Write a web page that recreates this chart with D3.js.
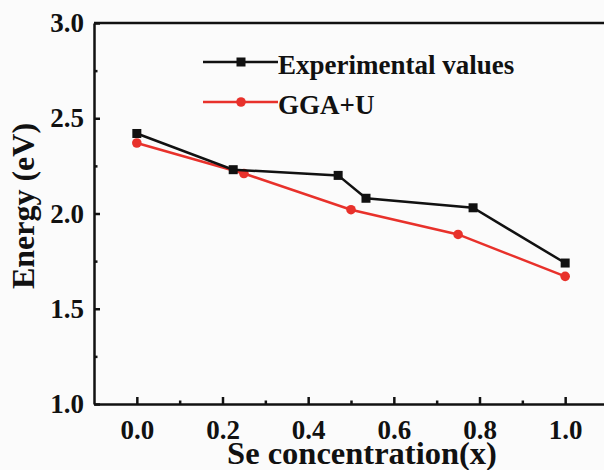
<!DOCTYPE html>
<html>
<head>
<meta charset="utf-8">
<script src="https://cdn.jsdelivr.net/npm/d3@7"></script>
<style>
  html, body { margin: 0; padding: 0; background: #fbfbfb; }
  svg { display: block; }
</style>
</head>
<body>
<svg id="chart" width="604" height="470"></svg>
<script>
// Band gap vs. Se concentration
const expX = [0.0, 0.225, 0.47, 0.535, 0.785, 1.0];
const expY = [2.42, 2.23, 2.20, 2.08, 2.03, 1.74];
const ggaX = [0.0, 0.25, 0.5, 0.75, 1.0];
const ggaY = [2.37, 2.21, 2.02, 1.89, 1.67];
const xTicks = [0.0, 0.2, 0.4, 0.6, 0.8, 1.0];
const yTicks = [1.0, 1.5, 2.0, 2.5, 3.0];
const seriesNames = ["Experimental values", "GGA+U"];
const colors = ["#111111", "#e8312b"];

const FONT = "'Liberation Serif', 'Times New Roman', Times, 'DejaVu Serif', serif";

const svg = d3.select("#chart");
const m = { left: 94, right: 608, top: 23, bottom: 404 };

const x = d3.scaleLinear().domain([-0.1, 1.1]).range([m.left, m.right]);
const y = d3.scaleLinear().domain([1.0, 3.0]).range([m.bottom, m.top]);

function styleText(sel, size) {
  sel.attr("font-family", FONT).attr("font-weight", "bold")
    .attr("font-size", size).attr("fill", "#111");
}

// Frame (top and right edges)
svg.append("path")
  .attr("d", `M${m.left},${m.top}H${m.right}V${m.bottom}`)
  .attr("fill", "none").attr("stroke", "#111").attr("stroke-width", 2.5);

// Bottom axis: inward major ticks plus minor ticks
const xAxis = svg.append("g").attr("transform", `translate(0,${m.bottom})`)
  .call(d3.axisBottom(x).tickValues(xTicks).tickFormat(d3.format(".1f"))
    .tickSizeInner(-7).tickSizeOuter(0).tickPadding(16));
xAxis.attr("font-family", FONT);
xAxis.selectAll(".domain").attr("stroke", "#111").attr("stroke-width", 2.5);
xAxis.selectAll(".tick line").attr("stroke", "#111").attr("stroke-width", 2.5);
xAxis.selectAll("text").call(styleText, 27).attr("dy", "0.71em");
svg.append("g").attr("transform", `translate(0,${m.bottom})`)
  .call(d3.axisBottom(x).tickValues([0.1, 0.3, 0.5, 0.7, 0.9]).tickFormat("")
    .tickSizeInner(-3.5).tickSizeOuter(0))
  .call(g => g.select(".domain").remove())
  .selectAll("line").attr("stroke", "#111").attr("stroke-width", 2.5);

// Left axis
const yAxis = svg.append("g").attr("transform", `translate(${m.left},0)`)
  .call(d3.axisLeft(y).tickValues(yTicks).tickFormat(d3.format(".1f"))
    .tickSizeInner(-6).tickSizeOuter(0).tickPadding(10));
yAxis.attr("font-family", FONT);
yAxis.selectAll(".domain").attr("stroke", "#111").attr("stroke-width", 2.5);
yAxis.selectAll(".tick line").attr("stroke", "#111").attr("stroke-width", 2.5);
yAxis.selectAll("text").call(styleText, 27);
svg.append("g").attr("transform", `translate(${m.left},0)`)
  .call(d3.axisLeft(y).tickValues([1.25, 1.75, 2.25, 2.75]).tickFormat("")
    .tickSizeInner(-3.5).tickSizeOuter(0))
  .call(g => g.select(".domain").remove())
  .selectAll("line").attr("stroke", "#111").attr("stroke-width", 2.5);

// Axis titles
svg.append("text").attr("x", 362).attr("y", 464).attr("text-anchor", "middle")
  .call(styleText, 32.5).text("Se concentration(x)");
svg.append("text").attr("transform", "translate(34,206) rotate(-90)")
  .attr("text-anchor", "middle").call(styleText, 32).text("Energy (eV)");

const line = d3.line().x(d => x(d[0])).y(d => y(d[1]));
const expData = expX.map((v, i) => [v, expY[i]]);
const ggaData = ggaX.map((v, i) => [v, ggaY[i]]);

// GGA+U series
svg.append("path").datum(ggaData).attr("d", line)
  .attr("fill", "none").attr("stroke", colors[1]).attr("stroke-width", 2.5);
svg.selectAll(".gga").data(ggaData).enter().append("circle")
  .attr("cx", d => x(d[0])).attr("cy", d => y(d[1])).attr("r", 4.8)
  .attr("fill", colors[1]);

// Experimental series
svg.append("path").datum(expData).attr("d", line)
  .attr("fill", "none").attr("stroke", colors[0]).attr("stroke-width", 2.5);
svg.selectAll(".exp").data(expData).enter().append("rect")
  .attr("x", d => x(d[0]) - 4.5).attr("y", d => y(d[1]) - 4.5)
  .attr("width", 9).attr("height", 9).attr("fill", colors[0]);

// Legend
const legendY = [62, 102];
seriesNames.forEach((name, i) => {
  const g = svg.append("g");
  g.append("line").attr("x1", 203).attr("x2", 278)
    .attr("y1", legendY[i]).attr("y2", legendY[i])
    .attr("stroke", colors[i]).attr("stroke-width", 2.5);
  if (i === 0) {
    g.append("rect").attr("x", 236.5).attr("y", legendY[i] - 4.5)
      .attr("width", 9).attr("height", 9).attr("fill", colors[i]);
  } else {
    g.append("circle").attr("cx", 241).attr("cy", legendY[i]).attr("r", 4.8)
      .attr("fill", colors[i]);
  }
  g.append("text").attr("x", 278).attr("y", legendY[i] + 12)
    .call(styleText, 27).text(name);
});
</script>
</body>
</html>
